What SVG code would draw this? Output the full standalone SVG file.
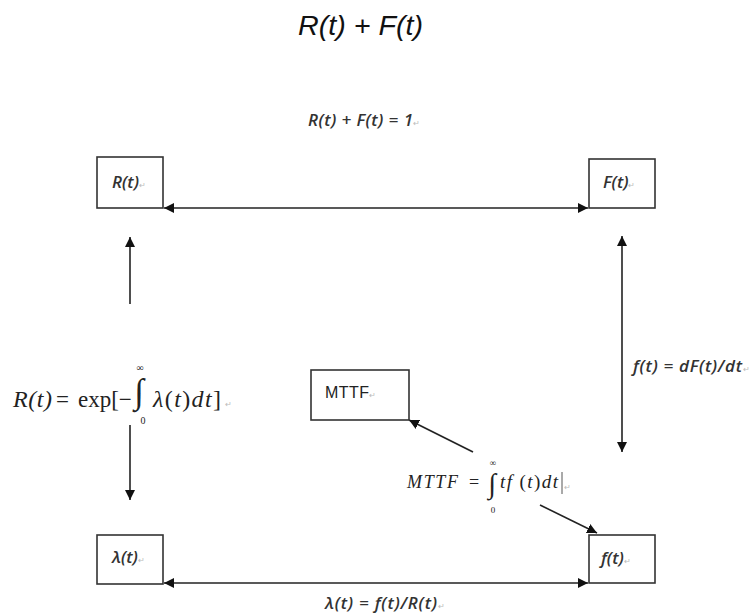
<svg xmlns="http://www.w3.org/2000/svg" width="751" height="616" viewBox="0 0 751 616">
<defs>
<marker id="ah" viewBox="0 0 10 10" refX="10" refY="5" markerWidth="10" markerHeight="10" markerUnits="userSpaceOnUse" orient="auto-start-reverse">
<path d="M0,0 L10,5 L0,10 z" fill="#111"/>
</marker>
<style>
.box{fill:#fff;stroke:#333;stroke-width:1.6}
.con{stroke:#222;stroke-width:1.6;fill:none}
.lab{font-family:"Open Sans","Liberation Sans",sans-serif;font-size:17px;font-style:italic;font-weight:600;fill:#333}
.eq{font-family:"Open Sans","Liberation Sans",sans-serif;font-size:17px;font-style:italic;font-weight:600;fill:#333}
.pm{font-family:"Liberation Sans",sans-serif;font-size:8px;fill:#bbb;font-style:normal;font-weight:normal}
.tm{font-family:"Liberation Serif","Times New Roman",serif;fill:#222}
</style>
</defs>
<rect width="751" height="616" fill="#fff"/>
<text x="298" y="35" textLength="125" lengthAdjust="spacingAndGlyphs" font-family="Liberation Sans, Arial, sans-serif" font-size="27" font-style="italic" fill="#111">R(t) + F(t)</text>
<text x="308" y="126" class="eq"><tspan textLength="105">R(t) + F(t) = 1</tspan><tspan class="pm">↵</tspan></text>

<g id="connectors">
<line class="con" x1="164" y1="208" x2="588" y2="208" marker-start="url(#ah)" marker-end="url(#ah)"/>
<line class="con" x1="164" y1="583" x2="588" y2="583" marker-start="url(#ah)" marker-end="url(#ah)"/>
<line class="con" x1="130" y1="304" x2="130" y2="237" marker-end="url(#ah)"/>
<line class="con" x1="130" y1="425" x2="130" y2="500" marker-end="url(#ah)"/>
<line class="con" x1="622" y1="236" x2="622" y2="452" marker-start="url(#ah)" marker-end="url(#ah)"/>
<line class="con" x1="473" y1="452" x2="409" y2="420" marker-end="url(#ah)"/>
<line class="con" x1="540" y1="505" x2="597" y2="533" marker-end="url(#ah)"/>
</g>

<g id="node-R">
<rect class="box" x="97" y="157" width="66" height="51"/>
<text x="112" y="188" class="lab">R(t)<tspan class="pm">↵</tspan></text>
</g>
<g id="node-F">
<rect class="box" x="589" y="159" width="66" height="49"/>
<text x="603" y="188" class="lab">F(t)<tspan class="pm">↵</tspan></text>
</g>
<g id="node-lambda">
<rect class="box" x="97" y="535" width="66" height="49"/>
<text x="112" y="563" class="lab">λ(t)<tspan class="pm">↵</tspan></text>
</g>
<g id="node-f">
<rect class="box" x="589" y="535" width="66" height="48"/>
<text x="601" y="564" class="lab">f(t)<tspan class="pm">↵</tspan></text>
</g>
<g id="node-MTTF">
<rect class="box" x="311" y="370" width="98" height="50"/>
<text x="325" y="398" font-family="Liberation Sans, Arial, sans-serif" font-size="16" fill="#222"><tspan textLength="44">MTTF</tspan><tspan class="pm">↵</tspan></text>
</g>

<text x="633" y="372" class="eq"><tspan textLength="109">f(t) = dF(t)/dt</tspan><tspan class="pm">↵</tspan></text>
<text x="325" y="609" class="eq"><tspan textLength="112">λ(t) = f(t)/R(t)</tspan><tspan class="pm">↵</tspan></text>

<g id="formula-R">
<text x="13" y="407" font-size="24" font-style="italic" class="tm" textLength="39">R(t)</text>
<text x="56" y="407" font-size="23" class="tm">=</text>
<text x="78" y="407" font-size="23" class="tm">exp[−</text>
<text x="139" y="403" font-size="35" text-anchor="middle" class="tm">∫</text>
<text x="140" y="371" font-size="10" text-anchor="middle" class="tm">∞</text>
<text x="143" y="424" font-size="10" text-anchor="middle" class="tm">0</text>
<text x="153" y="407" font-size="24" class="tm"><tspan textLength="68"><tspan font-style="italic">λ</tspan>(<tspan font-style="italic">t</tspan>)<tspan font-style="italic">dt</tspan>]</tspan><tspan class="pm" dx="3">↵</tspan></text>
</g>

<g id="formula-MTTF">
<text x="407" y="488" font-size="18" font-style="italic" class="tm" textLength="51">MTTF</text>
<text x="469" y="488" font-size="18" class="tm">=</text>
<text x="492" y="493" font-size="28" text-anchor="middle" class="tm">∫</text>
<text x="493" y="466" font-size="9" text-anchor="middle" class="tm">∞</text>
<text x="493" y="513" font-size="9" text-anchor="middle" class="tm">0</text>
<text x="500" y="488" font-size="19" class="tm" textLength="58"><tspan font-style="italic">tf</tspan> (<tspan font-style="italic">t</tspan>)<tspan font-style="italic">dt</tspan></text>
<line x1="562" y1="472" x2="562" y2="494" stroke="#555" stroke-width="1"/>
<text x="564" y="490" class="pm">↵</text>
</g>
</svg>
